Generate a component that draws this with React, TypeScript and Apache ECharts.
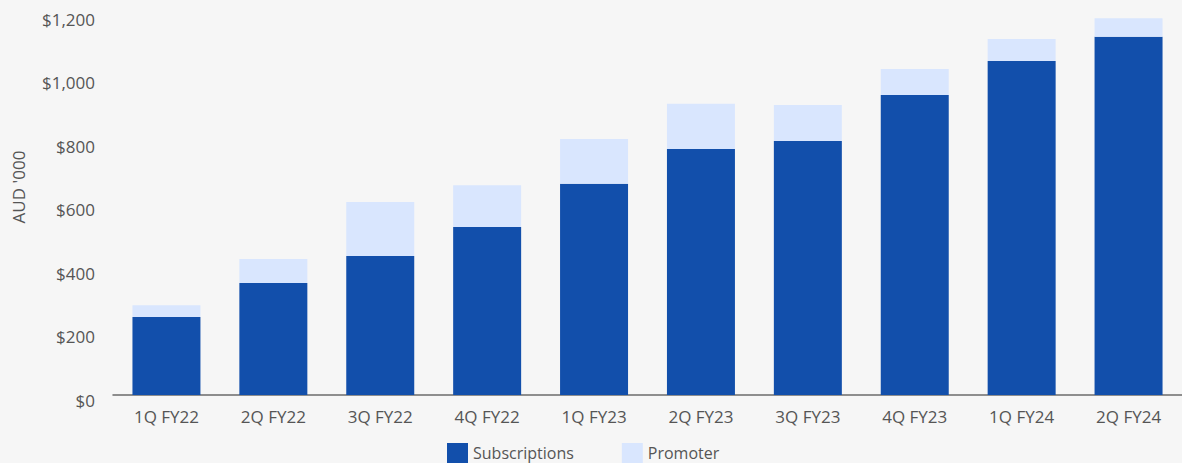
import React, { useEffect, useRef } from "react";
import * as echarts from "echarts";

const categories = ["1Q FY22", "2Q FY22", "3Q FY22", "4Q FY22", "1Q FY23", "2Q FY23", "3Q FY23", "4Q FY23", "1Q FY24", "2Q FY24"];
const subscriptions = [246, 353, 438, 529, 665, 775, 800, 945, 1052, 1128];
const promoter = [37, 75, 170, 132, 141, 142, 113, 82, 69, 59];
const yTicks = [0, 200, 400, 600, 800, 1000, 1200];

const FONT = "'Open Sans', 'Noto Sans', sans-serif";
const TEXT = "#555555";

export default function App() {
  const ref = useRef<HTMLDivElement>(null);
  useEffect(() => {
    if (!ref.current) return;
    const chart = echarts.init(ref.current, undefined, { renderer: "svg" });
    chart.setOption({
      animation: false,
      backgroundColor: "#f6f6f6",
      textStyle: { fontFamily: FONT },
      grid: { left: 113, right: 0, top: 14, bottom: 68, containLabel: false },
      legend: {
        left: 447,
        top: 443,
        padding: 0,
        itemWidth: 21,
        itemHeight: 20,
        itemGap: 48,
        icon: "rect",
        textStyle: { color: TEXT, fontSize: 16, fontFamily: FONT },
        data: ["Subscriptions", "Promoter"],
      },
      graphic: [
        {
          type: "text",
          x: 18,
          y: 187,
          rotation: Math.PI / 2,
          style: {
            text: "AUD '000",
            fill: TEXT,
            font: `17px ${FONT}`,
            align: "center",
            verticalAlign: "middle",
          },
        },
      ],
      xAxis: {
        type: "category",
        data: categories,
        axisLine: { lineStyle: { color: "#6b6b6b", width: 1.5 } },
        axisTick: { show: false },
        axisLabel: { color: TEXT, fontSize: 17, margin: 13, fontFamily: FONT },
      },
      yAxis: {
        type: "value",
        min: yTicks[0],
        max: yTicks[yTicks.length - 1],
        interval: 200,
        axisLine: { show: false },
        axisTick: { show: false },
        splitLine: { show: false },
        axisLabel: {
          color: TEXT,
          fontSize: 17,
          margin: 18,
          verticalAlign: "top",
          lineHeight: 10,
          fontFamily: FONT,
          formatter: (v: number) => "$" + v.toLocaleString("en-US"),
        },
      },
      series: [
        {
          name: "Subscriptions",
          type: "bar",
          stack: "total",
          data: subscriptions,
          barWidth: "63.6%",
          itemStyle: { color: "#124fab" },
        },
        {
          name: "Promoter",
          type: "bar",
          stack: "total",
          data: promoter,
          barWidth: "63.6%",
          itemStyle: { color: "#d9e6fe" },
        },
      ],
    });
    return () => chart.dispose();
  }, []);
  return <div ref={ref} style={{ position: "fixed", left: 0, top: 0, width: 1182, height: 463 }} />;
}
